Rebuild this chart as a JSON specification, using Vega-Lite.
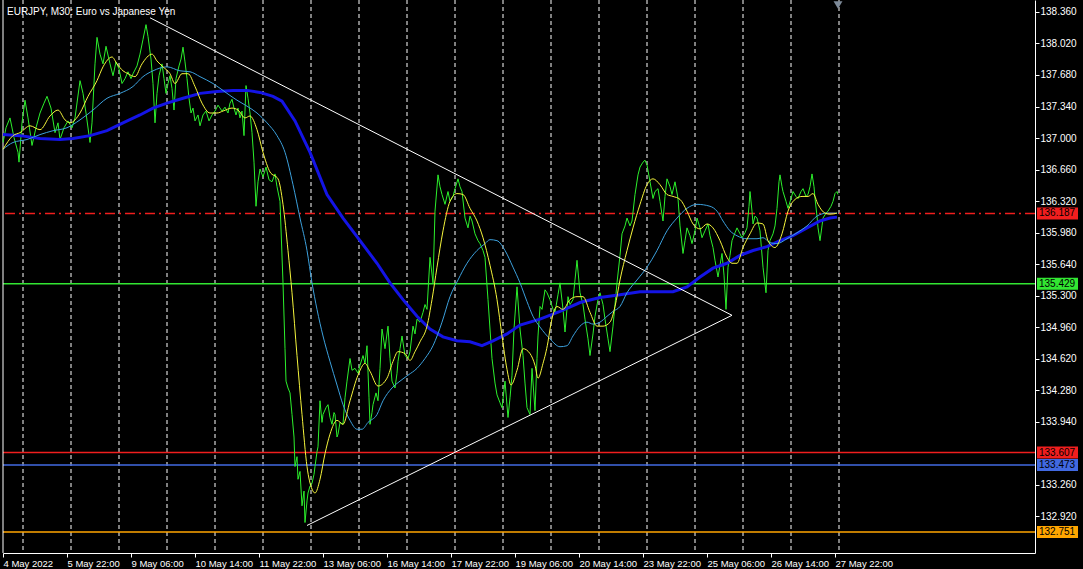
{
"$schema": "https://vega.github.io/schema/vega-lite/v6.json",
"width": 1032, "height": 553,
"autosize": {"type": "none"},
"padding": {"left": 3, "top": 0, "right": 48, "bottom": 16},
"background": "#000000",
"config": {"view": {"stroke": null}, "font": "Liberation Sans, sans-serif",
  "axisY": {"labelOverlap": false, "labelFlush": false, "labelBound": false},
  "axisX": {"labelOverlap": false, "labelFlush": false, "labelBound": false}},
"datasets": {
"days": [{"b":20},{"b":68},{"b":116},{"b":164},{"b":212},{"b":260},{"b":308},{"b":356},{"b":404},{"b":452},{"b":500},{"b":548},{"b":596},{"b":644},{"b":692},{"b":740},{"b":788},{"b":836}],
"levels": [{"name":"136.187","p":136.187},{"name":"135.429","p":135.429},{"name":"133.607","p":133.607},{"name":"133.473","p":133.473},{"name":"132.751","p":132.751}],
"tri": [{"seg":"upper","b":147,"p":138.297},{"seg":"upper","b":729,"p":135.088},{"seg":"lower","b":304,"p":132.821},{"seg":"lower","b":729,"p":135.088}],
"info": [{"label": "EURJPY, M30:  Euro vs Japanese Yen"}],
"price": [{"b":0,"p":136.952},{"b":3,"p":137.111},{"b":7,"p":137.217},{"b":11,"p":137.005},{"b":15,"p":136.846},{"b":16,"p":136.740},{"b":19,"p":137.164},{"b":22,"p":137.408},{"b":25,"p":137.217},{"b":29,"p":136.920},{"b":33,"p":137.111},{"b":37,"p":137.270},{"b":41,"p":137.376},{"b":44,"p":137.450},{"b":48,"p":137.323},{"b":52,"p":137.058},{"b":55,"p":137.164},{"b":57,"p":136.984},{"b":61,"p":137.111},{"b":65,"p":137.185},{"b":69,"p":137.111},{"b":72,"p":137.217},{"b":77,"p":137.619},{"b":80,"p":137.482},{"b":83,"p":137.270},{"b":87,"p":136.952},{"b":89,"p":137.164},{"b":92,"p":137.800},{"b":94,"p":138.086},{"b":97,"p":137.905},{"b":100,"p":137.800},{"b":103,"p":137.990},{"b":107,"p":137.800},{"b":110,"p":137.672},{"b":113,"p":137.821},{"b":116,"p":137.747},{"b":119,"p":137.588},{"b":122,"p":137.641},{"b":125,"p":137.715},{"b":128,"p":137.641},{"b":130,"p":137.694},{"b":134,"p":137.778},{"b":137,"p":137.905},{"b":140,"p":138.064},{"b":143,"p":138.223},{"b":145,"p":138.096},{"b":148,"p":137.852},{"b":150,"p":137.588},{"b":152,"p":137.164},{"b":154,"p":137.482},{"b":156,"p":137.672},{"b":159,"p":137.800},{"b":161,"p":137.641},{"b":163,"p":137.482},{"b":165,"p":137.588},{"b":167,"p":137.672},{"b":169,"p":137.535},{"b":171,"p":137.302},{"b":173,"p":137.641},{"b":176,"p":137.778},{"b":178,"p":137.852},{"b":180,"p":137.980},{"b":182,"p":137.821},{"b":184,"p":137.641},{"b":186,"p":137.429},{"b":188,"p":137.270},{"b":190,"p":137.323},{"b":192,"p":137.185},{"b":195,"p":137.249},{"b":197,"p":137.132},{"b":200,"p":137.249},{"b":203,"p":137.291},{"b":206,"p":137.185},{"b":209,"p":137.249},{"b":212,"p":137.291},{"b":215,"p":137.355},{"b":219,"p":137.291},{"b":222,"p":137.333},{"b":225,"p":137.270},{"b":227,"p":137.376},{"b":229,"p":137.418},{"b":231,"p":137.323},{"b":233,"p":137.249},{"b":235,"p":137.323},{"b":237,"p":137.217},{"b":239,"p":137.291},{"b":241,"p":137.026},{"b":243,"p":137.566},{"b":245,"p":137.429},{"b":247,"p":137.270},{"b":249,"p":137.058},{"b":251,"p":136.740},{"b":253,"p":136.264},{"b":255,"p":136.528},{"b":257,"p":136.666},{"b":260,"p":136.581},{"b":263,"p":136.687},{"b":266,"p":136.550},{"b":269,"p":136.528},{"b":272,"p":136.613},{"b":274,"p":136.475},{"b":277,"p":136.317},{"b":280,"p":135.438},{"b":282,"p":134.728},{"b":283,"p":134.378},{"b":285,"p":134.304},{"b":287,"p":134.251},{"b":289,"p":134.018},{"b":291,"p":133.775},{"b":292,"p":133.457},{"b":294,"p":133.563},{"b":295,"p":133.319},{"b":297,"p":133.404},{"b":299,"p":133.033},{"b":301,"p":133.192},{"b":302,"p":132.853},{"b":304,"p":133.086},{"b":305,"p":133.171},{"b":307,"p":133.245},{"b":309,"p":133.277},{"b":311,"p":133.372},{"b":312,"p":133.457},{"b":314,"p":133.616},{"b":315,"p":133.669},{"b":317,"p":134.166},{"b":319,"p":133.933},{"b":320,"p":134.018},{"b":323,"p":134.092},{"b":325,"p":134.124},{"b":327,"p":133.986},{"b":329,"p":133.912},{"b":331,"p":134.039},{"b":332,"p":134.018},{"b":334,"p":133.775},{"b":335,"p":133.806},{"b":337,"p":133.933},{"b":340,"p":133.912},{"b":342,"p":134.198},{"b":344,"p":134.378},{"b":347,"p":134.622},{"b":349,"p":134.495},{"b":352,"p":134.516},{"b":355,"p":134.463},{"b":357,"p":134.548},{"b":360,"p":134.654},{"b":362,"p":134.569},{"b":364,"p":134.760},{"b":366,"p":134.198},{"b":367,"p":133.912},{"b":369,"p":134.039},{"b":370,"p":134.124},{"b":373,"p":134.251},{"b":375,"p":134.166},{"b":377,"p":134.516},{"b":379,"p":134.940},{"b":382,"p":134.728},{"b":385,"p":134.971},{"b":387,"p":134.622},{"b":389,"p":134.378},{"b":392,"p":134.304},{"b":394,"p":134.463},{"b":395,"p":134.590},{"b":397,"p":134.728},{"b":399,"p":134.865},{"b":402,"p":134.654},{"b":405,"p":134.622},{"b":407,"p":134.696},{"b":410,"p":134.971},{"b":412,"p":134.887},{"b":414,"p":135.046},{"b":417,"p":135.014},{"b":420,"p":135.120},{"b":422,"p":135.204},{"b":424,"p":135.152},{"b":427,"p":135.713},{"b":430,"p":135.438},{"b":432,"p":136.211},{"b":435,"p":136.603},{"b":437,"p":136.475},{"b":439,"p":136.391},{"b":442,"p":136.285},{"b":445,"p":136.423},{"b":447,"p":136.317},{"b":450,"p":136.370},{"b":452,"p":136.454},{"b":455,"p":136.560},{"b":457,"p":136.475},{"b":459,"p":136.423},{"b":462,"p":136.137},{"b":465,"p":136.031},{"b":467,"p":136.158},{"b":469,"p":136.105},{"b":472,"p":135.967},{"b":475,"p":135.893},{"b":477,"p":135.861},{"b":480,"p":135.787},{"b":482,"p":135.713},{"b":485,"p":135.257},{"b":487,"p":134.940},{"b":489,"p":134.622},{"b":492,"p":134.357},{"b":494,"p":134.230},{"b":497,"p":134.145},{"b":499,"p":134.092},{"b":502,"p":134.378},{"b":505,"p":133.986},{"b":507,"p":134.198},{"b":509,"p":134.442},{"b":511,"p":134.940},{"b":514,"p":135.395},{"b":517,"p":134.940},{"b":520,"p":134.654},{"b":522,"p":134.357},{"b":524,"p":134.092},{"b":527,"p":134.018},{"b":529,"p":134.516},{"b":532,"p":134.060},{"b":534,"p":134.622},{"b":535,"p":134.865},{"b":537,"p":135.183},{"b":539,"p":135.152},{"b":542,"p":135.363},{"b":544,"p":135.331},{"b":547,"p":135.257},{"b":550,"p":135.152},{"b":552,"p":135.120},{"b":555,"p":135.310},{"b":557,"p":135.438},{"b":560,"p":135.152},{"b":562,"p":134.908},{"b":565,"p":135.289},{"b":567,"p":135.204},{"b":570,"p":135.257},{"b":572,"p":135.469},{"b":574,"p":135.681},{"b":577,"p":135.331},{"b":580,"p":135.204},{"b":582,"p":135.046},{"b":585,"p":134.834},{"b":587,"p":134.654},{"b":590,"p":134.887},{"b":592,"p":135.077},{"b":595,"p":135.257},{"b":597,"p":135.331},{"b":600,"p":135.204},{"b":602,"p":135.046},{"b":605,"p":134.834},{"b":607,"p":134.696},{"b":610,"p":134.971},{"b":612,"p":135.204},{"b":614,"p":135.438},{"b":617,"p":135.734},{"b":619,"p":135.967},{"b":622,"p":136.052},{"b":624,"p":136.137},{"b":627,"p":136.052},{"b":629,"p":136.105},{"b":632,"p":136.391},{"b":635,"p":136.603},{"b":637,"p":136.687},{"b":640,"p":136.740},{"b":642,"p":136.761},{"b":644,"p":136.709},{"b":647,"p":136.528},{"b":650,"p":136.348},{"b":652,"p":136.423},{"b":655,"p":136.454},{"b":657,"p":136.317},{"b":660,"p":136.105},{"b":662,"p":136.370},{"b":664,"p":136.560},{"b":667,"p":136.475},{"b":669,"p":136.391},{"b":672,"p":136.528},{"b":675,"p":136.348},{"b":677,"p":136.052},{"b":680,"p":135.755},{"b":682,"p":135.893},{"b":684,"p":136.031},{"b":687,"p":135.946},{"b":689,"p":135.861},{"b":692,"p":135.999},{"b":694,"p":136.137},{"b":697,"p":136.031},{"b":699,"p":135.925},{"b":702,"p":135.999},{"b":705,"p":136.073},{"b":707,"p":135.946},{"b":710,"p":135.819},{"b":712,"p":135.681},{"b":715,"p":135.501},{"b":717,"p":135.628},{"b":719,"p":135.755},{"b":721,"p":135.522},{"b":723,"p":135.152},{"b":725,"p":135.607},{"b":727,"p":135.734},{"b":729,"p":135.893},{"b":732,"p":135.978},{"b":734,"p":136.031},{"b":737,"p":135.967},{"b":739,"p":135.925},{"b":742,"p":135.978},{"b":744,"p":136.031},{"b":746,"p":136.264},{"b":747,"p":136.423},{"b":749,"p":136.211},{"b":750,"p":136.073},{"b":752,"p":136.158},{"b":754,"p":136.137},{"b":757,"p":135.999},{"b":760,"p":135.607},{"b":763,"p":135.331},{"b":765,"p":135.787},{"b":767,"p":135.893},{"b":770,"p":135.967},{"b":772,"p":136.052},{"b":774,"p":136.242},{"b":776,"p":136.528},{"b":777,"p":136.603},{"b":779,"p":136.475},{"b":780,"p":136.423},{"b":783,"p":136.317},{"b":785,"p":136.242},{"b":788,"p":136.348},{"b":790,"p":136.423},{"b":793,"p":136.370},{"b":795,"p":136.348},{"b":798,"p":136.423},{"b":800,"p":136.454},{"b":803,"p":136.370},{"b":805,"p":136.391},{"b":807,"p":136.475},{"b":809,"p":136.613},{"b":811,"p":136.475},{"b":812,"p":136.348},{"b":814,"p":136.158},{"b":815,"p":136.031},{"b":817,"p":135.893},{"b":819,"p":136.052},{"b":820,"p":136.137},{"b":823,"p":136.190},{"b":825,"p":136.211},{"b":828,"p":136.264},{"b":830,"p":136.317},{"b":832,"p":136.401},{"b":834,"p":136.423},{"b":835,"p":136.391}],
"yellow": [{"b":0,"p":136.878},{"b":10,"p":137.026},{"b":17,"p":137.058},{"b":27,"p":137.132},{"b":37,"p":137.090},{"b":47,"p":137.238},{"b":55,"p":137.302},{"b":62,"p":137.196},{"b":67,"p":137.164},{"b":77,"p":137.270},{"b":85,"p":137.450},{"b":94,"p":137.619},{"b":100,"p":137.768},{"b":109,"p":137.874},{"b":114,"p":137.800},{"b":120,"p":137.725},{"b":125,"p":137.694},{"b":132,"p":137.662},{"b":139,"p":137.800},{"b":149,"p":137.905},{"b":154,"p":137.831},{"b":160,"p":137.768},{"b":167,"p":137.694},{"b":172,"p":137.588},{"b":179,"p":137.694},{"b":185,"p":137.694},{"b":192,"p":137.556},{"b":199,"p":137.376},{"b":207,"p":137.270},{"b":214,"p":137.270},{"b":220,"p":137.291},{"b":229,"p":137.323},{"b":235,"p":137.302},{"b":242,"p":137.217},{"b":247,"p":137.238},{"b":254,"p":137.090},{"b":260,"p":136.846},{"b":267,"p":136.634},{"b":275,"p":136.560},{"b":280,"p":136.285},{"b":285,"p":135.787},{"b":289,"p":135.331},{"b":294,"p":134.654},{"b":299,"p":134.018},{"b":304,"p":133.457},{"b":309,"p":133.213},{"b":312,"p":133.171},{"b":317,"p":133.319},{"b":322,"p":133.595},{"b":327,"p":133.806},{"b":334,"p":133.955},{"b":340,"p":133.912},{"b":347,"p":134.166},{"b":355,"p":134.442},{"b":362,"p":134.569},{"b":367,"p":134.484},{"b":375,"p":134.325},{"b":384,"p":134.410},{"b":390,"p":134.590},{"b":395,"p":134.696},{"b":402,"p":134.675},{"b":407,"p":134.601},{"b":412,"p":134.696},{"b":417,"p":134.802},{"b":424,"p":134.971},{"b":429,"p":135.257},{"b":434,"p":135.607},{"b":440,"p":135.999},{"b":447,"p":136.317},{"b":454,"p":136.401},{"b":460,"p":136.391},{"b":467,"p":136.242},{"b":474,"p":136.105},{"b":480,"p":135.925},{"b":487,"p":135.628},{"b":494,"p":135.257},{"b":499,"p":134.865},{"b":504,"p":134.505},{"b":508,"p":134.336},{"b":514,"p":134.495},{"b":520,"p":134.728},{"b":527,"p":134.675},{"b":532,"p":134.548},{"b":535,"p":134.410},{"b":540,"p":134.569},{"b":545,"p":134.802},{"b":547,"p":134.940},{"b":554,"p":135.183},{"b":560,"p":135.152},{"b":567,"p":135.257},{"b":574,"p":135.289},{"b":580,"p":135.289},{"b":587,"p":135.120},{"b":594,"p":134.971},{"b":600,"p":134.971},{"b":607,"p":135.014},{"b":612,"p":135.183},{"b":617,"p":135.469},{"b":624,"p":135.787},{"b":630,"p":136.031},{"b":637,"p":136.285},{"b":644,"p":136.497},{"b":650,"p":136.560},{"b":657,"p":136.497},{"b":664,"p":136.391},{"b":670,"p":136.370},{"b":677,"p":136.338},{"b":684,"p":136.211},{"b":690,"p":136.073},{"b":697,"p":136.020},{"b":704,"p":136.073},{"b":710,"p":136.031},{"b":717,"p":135.893},{"b":724,"p":135.713},{"b":729,"p":135.649},{"b":734,"p":135.649},{"b":740,"p":135.819},{"b":747,"p":135.967},{"b":754,"p":136.084},{"b":760,"p":136.073},{"b":765,"p":135.893},{"b":772,"p":135.819},{"b":779,"p":135.967},{"b":785,"p":136.211},{"b":792,"p":136.338},{"b":799,"p":136.370},{"b":805,"p":136.370},{"b":810,"p":136.401},{"b":815,"p":136.285},{"b":822,"p":136.190},{"b":827,"p":136.179},{"b":834,"p":136.190}],
"lblue": [{"b":0,"p":136.878},{"b":10,"p":136.952},{"b":24,"p":136.984},{"b":37,"p":137.037},{"b":50,"p":137.079},{"b":64,"p":137.111},{"b":77,"p":137.196},{"b":90,"p":137.302},{"b":104,"p":137.429},{"b":117,"p":137.482},{"b":130,"p":137.556},{"b":140,"p":137.662},{"b":150,"p":137.725},{"b":164,"p":137.768},{"b":177,"p":137.725},{"b":187,"p":137.715},{"b":197,"p":137.662},{"b":210,"p":137.588},{"b":224,"p":137.482},{"b":234,"p":137.408},{"b":244,"p":137.344},{"b":254,"p":137.270},{"b":264,"p":137.164},{"b":274,"p":137.026},{"b":282,"p":136.846},{"b":290,"p":136.497},{"b":297,"p":136.137},{"b":304,"p":135.787},{"b":309,"p":135.438},{"b":314,"p":135.152},{"b":320,"p":134.865},{"b":327,"p":134.590},{"b":334,"p":134.336},{"b":340,"p":134.124},{"b":347,"p":133.955},{"b":354,"p":133.859},{"b":359,"p":133.859},{"b":365,"p":133.933},{"b":374,"p":134.018},{"b":380,"p":134.166},{"b":389,"p":134.304},{"b":397,"p":134.378},{"b":405,"p":134.442},{"b":414,"p":134.516},{"b":422,"p":134.622},{"b":430,"p":134.760},{"b":439,"p":135.014},{"b":447,"p":135.289},{"b":455,"p":135.469},{"b":464,"p":135.649},{"b":474,"p":135.787},{"b":482,"p":135.861},{"b":487,"p":135.904},{"b":494,"p":135.893},{"b":502,"p":135.787},{"b":510,"p":135.607},{"b":517,"p":135.438},{"b":524,"p":135.236},{"b":530,"p":135.077},{"b":537,"p":134.961},{"b":547,"p":134.834},{"b":557,"p":134.749},{"b":564,"p":134.760},{"b":570,"p":134.865},{"b":577,"p":134.971},{"b":584,"p":135.014},{"b":590,"p":134.993},{"b":597,"p":135.014},{"b":604,"p":135.077},{"b":610,"p":135.130},{"b":617,"p":135.183},{"b":624,"p":135.331},{"b":634,"p":135.469},{"b":644,"p":135.607},{"b":654,"p":135.787},{"b":664,"p":135.999},{"b":674,"p":136.137},{"b":684,"p":136.242},{"b":694,"p":136.285},{"b":707,"p":136.264},{"b":714,"p":136.211},{"b":720,"p":136.105},{"b":727,"p":135.999},{"b":734,"p":135.946},{"b":744,"p":135.914},{"b":754,"p":135.914},{"b":760,"p":135.925},{"b":767,"p":135.872},{"b":774,"p":135.861},{"b":784,"p":135.914},{"b":794,"p":135.978},{"b":804,"p":136.052},{"b":814,"p":136.158},{"b":824,"p":136.190},{"b":834,"p":136.190}],
"dblue": [{"b":0,"p":137.037},{"b":17,"p":137.026},{"b":37,"p":136.995},{"b":57,"p":136.984},{"b":70,"p":136.995},{"b":87,"p":137.026},{"b":104,"p":137.079},{"b":120,"p":137.164},{"b":137,"p":137.249},{"b":150,"p":137.323},{"b":164,"p":137.376},{"b":180,"p":137.429},{"b":197,"p":137.482},{"b":214,"p":137.503},{"b":230,"p":137.514},{"b":244,"p":137.514},{"b":257,"p":137.492},{"b":270,"p":137.450},{"b":279,"p":137.397},{"b":292,"p":137.185},{"b":307,"p":136.846},{"b":324,"p":136.391},{"b":340,"p":136.137},{"b":357,"p":135.893},{"b":374,"p":135.649},{"b":387,"p":135.438},{"b":400,"p":135.257},{"b":414,"p":135.077},{"b":427,"p":134.940},{"b":440,"p":134.855},{"b":454,"p":134.813},{"b":467,"p":134.802},{"b":479,"p":134.760},{"b":490,"p":134.813},{"b":504,"p":134.887},{"b":517,"p":134.982},{"b":537,"p":135.046},{"b":557,"p":135.130},{"b":577,"p":135.226},{"b":597,"p":135.279},{"b":617,"p":135.310},{"b":637,"p":135.342},{"b":657,"p":135.342},{"b":670,"p":135.342},{"b":684,"p":135.395},{"b":697,"p":135.501},{"b":710,"p":135.596},{"b":724,"p":135.649},{"b":737,"p":135.734},{"b":750,"p":135.787},{"b":764,"p":135.829},{"b":777,"p":135.893},{"b":790,"p":135.946},{"b":804,"p":136.031},{"b":817,"p":136.105},{"b":827,"p":136.137},{"b":834,"p":136.147}]
},
"layer": [
{"data": {"name": "days"}, "mark": {"type": "rule", "color": "#ffffff", "strokeWidth": 1, "strokeDash": [4, 3]},
 "encoding": {"x": {"field": "b", "type": "quantitative", "title": null, "scale": {"domain": [0, 1032], "nice": false, "zero": false},
  "axis": {"orient": "bottom", "values": [0,64,128,192,256,320,384,448,512,576,640,704,768,832], "tickCount": 40, "labelExpr": "['4 May 2022','5 May 22:00','9 May 06:00','10 May 14:00','11 May 22:00','13 May 06:00','16 May 14:00','17 May 22:00','19 May 06:00','20 May 14:00','23 May 22:00','25 May 06:00','26 May 14:00','27 May 22:00'][round(datum.value/64)]", "labelAlign": "left", "labelBaseline": "top", "labelColor": "#ffffff", "labelFont": "Liberation Sans", "labelFontSize": 9.5, "labelPadding": 1, "labelOverlap": false, "labelFlush": false, "labelBound": false, "tickColor": "#ffffff", "tickSize": 4, "domainColor": "#ffffff", "grid": false, "title": null}}}},
{"data": {"name": "levels"}, "mark": {"type": "rule", "strokeWidth": 1.5},
 "encoding": {"y": {"field": "p", "type": "quantitative", "title": null, "scale": {"domain": [132.578, 138.435], "nice": false, "zero": false},
  "axis": {"orient": "right", "values": [132.92,133.26,133.94,134.28,134.62,134.96,135.3,135.64,135.98,136.32,136.66,137.0,137.34,137.68,138.02,138.36], "tickCount": 40, "format": ".3f", "labelColor": "#ffffff", "labelFont": "Liberation Sans", "labelFontSize": 10, "labelPadding": 1, "tickColor": "#ffffff", "tickSize": 4, "domainColor": "#ffffff", "grid": false, "title": null, "labelFlush": false, "labelOverlap": false, "labelBound": false}},
  "color": {"field": "name", "type": "nominal", "scale": {"domain": ["136.187","135.429","133.607","133.473","132.751"], "range": ["#f01e1e","#32e632","#f01e1e","#4169e1","#ffa500"]}, "legend": null},
  "strokeDash": {"condition": {"test": "datum.p == 136.187", "value": [10, 4, 2, 4]}, "value": [1, 0]}}},
{"data": {"name": "info"}, "mark": {"type": "rule", "color": "#ffffff", "strokeWidth": 1},
 "encoding": {"x": {"datum": 0, "type": "quantitative", "title": null}}},
{"data": {"name": "price"}, "mark": {"type": "line", "color": "#2cf02c", "strokeWidth": 1},
 "encoding": {"x": {"field": "b", "type": "quantitative", "title": null},
  "y": {"field": "p", "type": "quantitative", "title": null}}},
{"data": {"name": "dblue"}, "mark": {"type": "line", "color": "#1414e6", "strokeWidth": 3},
 "encoding": {"x": {"field": "b", "type": "quantitative", "title": null},
  "y": {"field": "p", "type": "quantitative", "title": null}}},
{"data": {"name": "lblue"}, "mark": {"type": "line", "color": "#3ca0dc", "strokeWidth": 1, "interpolate": "monotone"},
 "encoding": {"x": {"field": "b", "type": "quantitative", "title": null},
  "y": {"field": "p", "type": "quantitative", "title": null}}},
{"data": {"name": "yellow"}, "mark": {"type": "line", "color": "#f5f53c", "strokeWidth": 1, "interpolate": "monotone"},
 "encoding": {"x": {"field": "b", "type": "quantitative", "title": null},
  "y": {"field": "p", "type": "quantitative", "title": null}}},
{"data": {"name": "tri"}, "mark": {"type": "line", "color": "#ffffff", "strokeWidth": 1},
 "encoding": {"x": {"field": "b", "type": "quantitative", "title": null},
  "y": {"field": "p", "type": "quantitative", "title": null},
  "detail": {"field": "seg", "type": "nominal"}}},
{"data": {"name": "levels"}, "mark": {"type": "bar", "orient": "horizontal", "size": 12},
 "encoding": {"x": {"datum": 1034, "type": "quantitative", "title": null},
  "x2": {"datum": 1075},
  "y": {"field": "p", "type": "quantitative", "title": null},
  "color": {"field": "name", "type": "nominal", "legend": null}}},
{"data": {"name": "levels"}, "mark": {"type": "text", "align": "left", "baseline": "middle", "color": "#000000", "font": "Liberation Sans", "fontSize": 10},
 "encoding": {"x": {"datum": 1036, "type": "quantitative", "title": null},
  "y": {"field": "p", "type": "quantitative", "title": null},
  "text": {"field": "name", "type": "nominal"}}},
{"data": {"name": "info"}, "mark": {"type": "text", "align": "left", "baseline": "alphabetic", "color": "#ffffff", "font": "Liberation Sans", "fontSize": 10},
 "encoding": {"x": {"datum": 4, "type": "quantitative", "title": null},
  "y": {"datum": 138.325, "type": "quantitative", "title": null},
  "text": {"field": "label", "type": "nominal"}}},
{"data": {"name": "info"}, "mark": {"type": "point", "shape": "triangle-down", "filled": true, "color": "#7d8a99", "size": 80, "opacity": 1},
 "encoding": {"x": {"datum": 835, "type": "quantitative", "title": null},
  "y": {"datum": 138.435, "type": "quantitative", "title": null}}}
]
}
